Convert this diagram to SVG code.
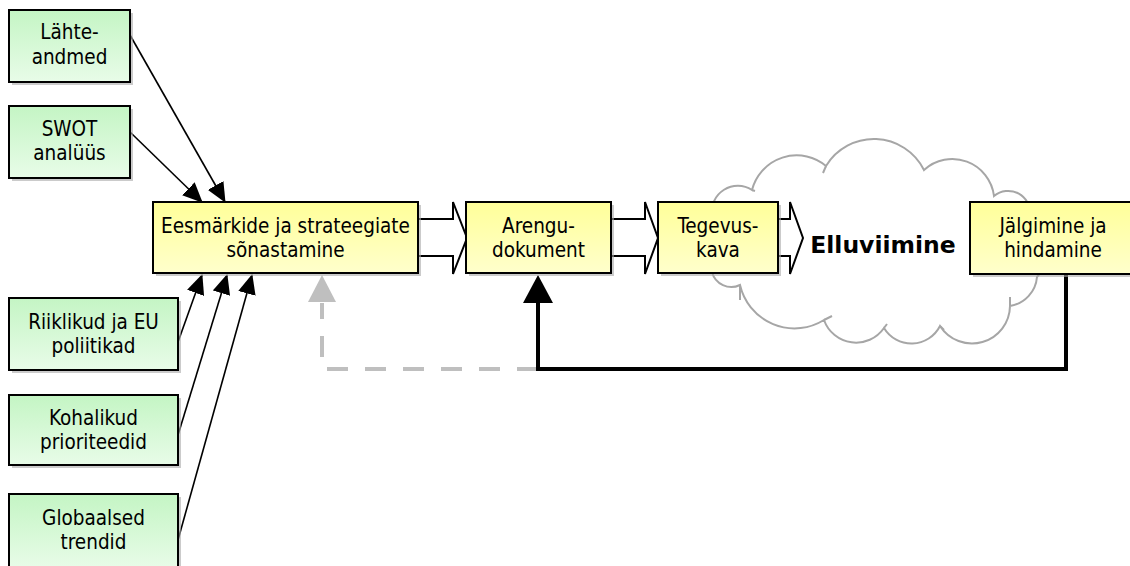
<svg xmlns="http://www.w3.org/2000/svg" width="1130" height="566" viewBox="0 0 1130 566">
<defs>
<linearGradient id="gGreen" x1="0" y1="0" x2="0" y2="1"><stop offset="0" stop-color="#c4f5c4"/><stop offset="1" stop-color="#e8fce8"/></linearGradient>
<linearGradient id="gYellow" x1="0" y1="0" x2="0" y2="1"><stop offset="0" stop-color="#ffff99"/><stop offset="1" stop-color="#ffffcc"/></linearGradient>
<marker id="ah" viewBox="0 0 20 18" refX="19" refY="9" markerWidth="20" markerHeight="18" markerUnits="userSpaceOnUse" orient="auto"><path d="M0,0 L20,9 L0,18 z" fill="#000"/></marker>
<style>
.box{stroke:#000;stroke-width:2}
.green{fill:url(#gGreen)}
.yellow{fill:url(#gYellow)}
.shadow{fill:#a8a8a8;opacity:0.6}
.t{font-family:"DejaVu Sans Condensed","DejaVu Sans",sans-serif;font-stretch:condensed;font-size:20.5px;fill:#000;text-anchor:middle}
.big{font-family:"DejaVu Sans",Verdana,sans-serif;font-size:23.5px;font-weight:bold;fill:#000;text-anchor:middle}
.in{stroke:#000;stroke-width:1.6;fill:none;marker-end:url(#ah)}
.block{fill:#fff;stroke:#000;stroke-width:2;stroke-linejoin:miter}
.cloud{fill:#fff;stroke:#a6a6a6;stroke-width:2}
</style>
</defs>
<rect width="1130" height="566" fill="#fff"/>

<g id="cloud">
<path class="cloud" d="M712,215 A26,26 0 0 1 752,190 A46,46 0 0 1 826,166 A56,56 0 0 1 924,170 A42,42 0 0 1 994,196 A22,22 0 0 1 1030,215 A40,40 0 0 1 1037,277 A32,32 0 0 1 1010,306 A38,38 0 0 1 940,326 A32,32 0 0 1 884,328 A34,34 0 0 1 824,320 A56,56 0 0 1 740,285 A20,20 0 0 1 712,272 Z"/>
<path d="M740,285 L740,300 M824,320 L832,316 M884,328 L887,324 M940,326 L944,330 M1010,306 L1010,297 M826,166 L823,173 M752,190 L755,191" stroke="#a6a6a6" stroke-width="2" fill="none"/>
<text class="big" x="883" y="253">Elluviimine</text>
</g>

<g id="connectors">
<line class="in" x1="130" y1="35" x2="225" y2="202"/>
<line class="in" x1="130" y1="132" x2="202" y2="202"/>
<line class="in" x1="178" y1="342" x2="202" y2="275"/>
<line class="in" x1="178" y1="435" x2="227" y2="275"/>
<line class="in" x1="178" y1="540" x2="252" y2="275"/>
<polygon class="block" points="410,219 453,219 453,202 467,238 453,274 453,256 410,256"/>
<polygon class="block" points="605,219 645,219 645,202 658,238 645,274 645,256 605,256"/>
<polygon class="block" points="775,219 790,219 790,202 803,238 790,274 790,256 775,256"/>
<path d="M538,369 L322,369 L322,303" fill="none" stroke="#bfbfbf" stroke-width="4" stroke-dasharray="21,17"/>
<polygon points="322,275 308,302 336,302" fill="#bfbfbf"/>
<path d="M1066,274 L1066,369 L538,369 L538,300" fill="none" stroke="#000" stroke-width="4" stroke-linejoin="miter"/>
<polygon points="538,275 523,303 553,303" fill="#000"/>
</g>

<g id="n-lahteandmed">
<rect class="shadow" x="12" y="13" width="121" height="72"/>
<rect class="box green" x="9" y="10" width="121" height="72"/>
<text class="t" x="69.5" y="39"><tspan x="69.5">Lähte-</tspan><tspan x="69.5" dy="25">andmed</tspan></text>
</g>
<g id="n-swot">
<rect class="shadow" x="12" y="109" width="121" height="72"/>
<rect class="box green" x="9" y="106" width="121" height="72"/>
<text class="t" x="69.5" y="135.5"><tspan x="69.5">SWOT</tspan><tspan x="69.5" dy="24.5">analüüs</tspan></text>
</g>
<g id="n-riiklikud">
<rect class="shadow" x="12" y="301" width="169" height="72"/>
<rect class="box green" x="9" y="298" width="169" height="72"/>
<text class="t" x="93.5" y="328.5"><tspan x="93.5">Riiklikud ja EU</tspan><tspan x="93.5" dy="24.5">poliitikad</tspan></text>
</g>
<g id="n-kohalikud">
<rect class="shadow" x="12" y="398" width="169" height="70"/>
<rect class="box green" x="9" y="395" width="169" height="70"/>
<text class="t" x="93.5" y="424.5"><tspan x="93.5">Kohalikud</tspan><tspan x="93.5" dy="24.5">prioriteedid</tspan></text>
</g>
<g id="n-globaalsed">
<rect class="shadow" x="12" y="497" width="169" height="72"/>
<rect class="box green" x="9" y="494" width="169" height="74"/>
<text class="t" x="93.5" y="524.5"><tspan x="93.5">Globaalsed</tspan><tspan x="93.5" dy="24.5">trendid</tspan></text>
</g>
<g id="n-eesmargid">
<rect class="shadow" x="156" y="205" width="265" height="71"/>
<rect class="box yellow" x="153" y="202" width="265" height="71"/>
<text class="t" x="285.5" y="232.5"><tspan x="285.5">Eesmärkide ja strateegiate</tspan><tspan x="285.5" dy="24">sõnastamine</tspan></text>
</g>
<g id="n-arengudokument">
<rect class="shadow" x="469" y="205" width="145" height="71"/>
<rect class="box yellow" x="466" y="202" width="145" height="71"/>
<text class="t" x="538.5" y="232.5"><tspan x="538.5">Arengu-</tspan><tspan x="538.5" dy="24">dokument</tspan></text>
</g>
<g id="n-tegevuskava">
<rect class="shadow" x="661" y="205" width="120" height="71"/>
<rect class="box yellow" x="658" y="202" width="120" height="71"/>
<text class="t" x="718" y="232.5"><tspan x="718">Tegevus-</tspan><tspan x="718" dy="24">kava</tspan></text>
</g>
<g id="n-jalgimine">
<rect class="shadow" x="973" y="205" width="166" height="72"/>
<rect class="box yellow" x="970" y="202" width="166" height="72"/>
<text class="t" x="1053" y="233"><tspan x="1053">Jälgimine ja</tspan><tspan x="1053" dy="24">hindamine</tspan></text>
</g>
</svg>
